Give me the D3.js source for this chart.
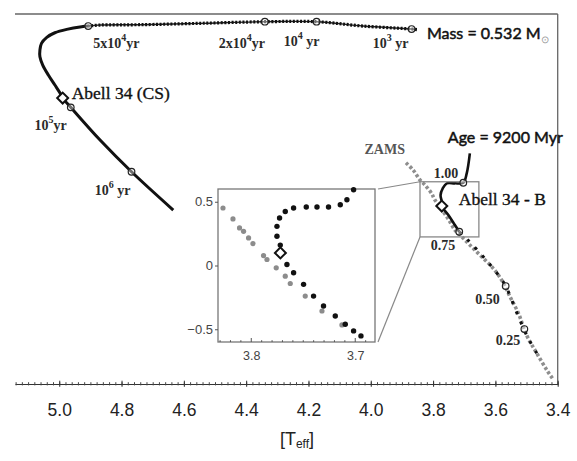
<!DOCTYPE html>
<html>
<head>
<meta charset="utf-8">
<script src="https://cdn.jsdelivr.net/npm/d3@7"></script>
<style>
  body { margin: 0; background: #fff; }
  svg { display: block; }
</style>
</head>
<body>
<svg id="chart" width="577" height="461"></svg>
<script>
// ---- data (log Teff, log L) ----
// central star: fast horizontal crossing (dotted) then cooling branch (solid)
const csEarlyTeff = [3.852, 3.869, 4.025, 4.174, 4.340, 4.548, 4.741, 4.869, 4.907];
const csEarlyLum  = [3.912, 3.923, 3.988, 4.082, 4.082, 4.047, 4.017, 4.010, 3.988];
const csLateTeff = [4.907, 4.928, 4.976, 5.014, 5.040, 5.057, 5.062, 5.062, 5.053, 5.035, 5.014, 4.998, 4.989, 4.963, 4.869, 4.768, 4.634];
const csLateLum  = [3.988, 3.973, 3.916, 3.842, 3.742, 3.612, 3.466, 3.320, 3.140, 2.923, 2.705, 2.537, 2.422, 2.219, 1.508, 0.818, -0.015];

// time markers on the central star track
const agePrefix = ["10", "10", "2x10", "5x10", "10", "10"];
const ageExp    = ["3", "4", "4", "4", "5", "6"];
const ageSuffix = [" yr", " yr", "yr", "yr", "yr", " yr"];
const ageTeff   = [3.869, 4.174, 4.340, 4.907, 4.963, 4.768];
const ageLum    = [3.923, 4.082, 4.082, 3.988, 2.219, 0.818];

// 9200 Myr isochrone
const isoTeff = [3.682, 3.692, 3.703, 3.730, 3.756, 3.769, 3.776, 3.772, 3.772, 3.751, 3.730, 3.716];
const isoLum  = [1.218, 0.783, 0.579, 0.566, 0.566, 0.457, 0.311, 0.165, 0.072, -0.124, -0.341, -0.487];
const isoLowTeff = [3.716, 3.682, 3.639, 3.608, 3.569, 3.526, 3.495, 3.467];
const isoLowLum  = [-0.487, -0.711, -1.031, -1.277, -1.647, -2.337, -2.800, -3.133];

// ZAMS
const zamsTeff = [3.887, 3.864, 3.842, 3.826, 3.805, 3.794, 3.767, 3.746, 3.730, 3.708, 3.682, 3.644, 3.607, 3.580, 3.553, 3.526, 3.500, 3.467, 3.435, 3.417];
const zamsLum  = [1.014, 0.855, 0.638, 0.529, 0.348, 0.202, -0.052, -0.270, -0.450, -0.596, -0.777, -1.031, -1.284, -1.538, -1.902, -2.263, -2.735, -3.133, -3.496, -3.677];

// stellar masses on the isochrone
const massLabels = ["1.00", "0.75", "0.50", "0.25"];
const massTeff   = [3.703, 3.716, 3.567, 3.507];
const massLum    = [0.579, -0.487, -1.669, -2.604];

// Abell 34 positions
const starNames = ["Abell 34 (CS)", "Abell 34 - B"];
const starTeff  = [4.989, 3.772];
const starLum   = [2.422, 0.072];

// zoom box
const boxTeff = [3.842, 3.653];
const boxLum  = [-0.6, 0.6];

// inset (zoomed) data
const inIsoTeff = [3.7016, 3.708, 3.7144, 3.7257, 3.7368, 3.7471, 3.7593, 3.7673, 3.7728, 3.7753, 3.7753, 3.7721, 3.7657, 3.7593, 3.7497, 3.7401, 3.7305, 3.7192, 3.7096, 3.7016, 3.6945];
const inIsoLum  = [0.594, 0.516, 0.477, 0.459, 0.459, 0.459, 0.451, 0.424, 0.373, 0.307, 0.229, 0.160, 0.008, -0.057, -0.148, -0.240, -0.318, -0.396, -0.461, -0.513, -0.552];
const inZamsTeff = [3.8272, 3.8176, 3.8113, 3.8074, 3.8026, 3.7984, 3.7882, 3.7849, 3.7760, 3.7673, 3.7625, 3.7481, 3.7320, 3.7128];
const inZamsLum  = [0.451, 0.365, 0.295, 0.268, 0.216, 0.172, 0.078, 0.047, -0.018, -0.084, -0.141, -0.240, -0.357, -0.466];
const inStar = [3.772, 0.099];

const xTicks = [5.0, 4.8, 4.6, 4.4, 4.2, 4.0, 3.8, 3.6, 3.4];

const svg = d3.select("#chart");

const x = d3.scaleLinear().domain([5.142, 3.4]).range([15, 557.7]);
const y = d3.scaleLinear().domain([-3.8, 4.25]).range([384, 14]);

const pts = (tx, ly) => tx.map((t, i) => [t, ly[i]]);
const line = d3.line().x(d => x(d[0])).y(d => y(d[1])).curve(d3.curveCatmullRom);

// frame: top and right only
svg.append("line")
  .attr("x1", x(5.142)).attr("x2", x(3.4)).attr("y1", y(4.25)).attr("y2", y(4.25))
  .attr("stroke", "#666").attr("stroke-width", 1.3);
svg.append("line")
  .attr("x1", x(3.4)).attr("x2", x(3.4)).attr("y1", y(4.25)).attr("y2", y(-3.8))
  .attr("stroke", "#666").attr("stroke-width", 1.3);

// x axis
const minor = d3.range(0, 88).map(i => +(5.14 - i * 0.02).toFixed(2)).filter(v => v >= 3.4);
svg.append("g")
  .attr("transform", `translate(0,${y(-3.8)})`)
  .call(d3.axisBottom(x).tickValues(minor).tickSize(0).tickFormat(""))
  .call(g => g.select(".domain").attr("stroke", "#333").attr("stroke-width", 1.2))
  .call(g => g.selectAll(".tick line").attr("y1", -1.8).attr("y2", 1.4).attr("stroke", "#444"));

svg.append("g")
  .attr("transform", `translate(0,${y(-3.8)})`)
  .call(d3.axisBottom(x).tickValues(xTicks).tickSize(0).tickFormat(d3.format(".1f")))
  .call(g => g.select(".domain").remove())
  .call(g => g.selectAll(".tick line").attr("y1", -3.3).attr("y2", 2.8).attr("stroke", "#333"))
  .call(g => g.selectAll(".tick text").attr("y", 32).attr("dy", 0)
    .attr("font-family", "Liberation Sans, Arial, sans-serif").attr("font-size", 17.5).attr("fill", "#222"));

const xl = svg.append("text")
  .attr("x", 297).attr("y", 445).attr("text-anchor", "middle")
  .attr("font-family", "Liberation Sans, Arial, sans-serif").attr("font-size", 18).attr("fill", "#222");
xl.append("tspan").text("[T");
xl.append("tspan").attr("font-size", 12).attr("dy", 3).text("eff");
xl.append("tspan").attr("dy", -3).text("]");

// ZAMS
svg.append("path").datum(pts(zamsTeff, zamsLum))
  .attr("d", line).attr("fill", "none")
  .attr("stroke", "#8e8e8e").attr("stroke-width", 3.6).attr("stroke-dasharray", "3,2.2");

// isochrone
svg.append("path").datum(pts(isoLowTeff, isoLowLum))
  .attr("d", line).attr("fill", "none")
  .attr("stroke", "#111").attr("stroke-width", 3).attr("stroke-dasharray", "3,8");
svg.append("path").datum(pts(isoTeff, isoLum))
  .attr("d", line).attr("fill", "none")
  .attr("stroke", "#111").attr("stroke-width", 2.6);

// central star track
svg.append("path").datum(pts(csEarlyTeff, csEarlyLum))
  .attr("d", line).attr("fill", "none")
  .attr("stroke", "#222").attr("stroke-width", 1.4);
svg.append("path").datum(pts(csEarlyTeff, csEarlyLum))
  .attr("d", line).attr("fill", "none")
  .attr("stroke", "#111").attr("stroke-width", 3.2).attr("stroke-dasharray", "2,1.6");
svg.append("path").datum(pts(csLateTeff, csLateLum))
  .attr("d", line).attr("fill", "none")
  .attr("stroke", "#111").attr("stroke-width", 3);

// zoom box
svg.append("rect")
  .attr("x", x(boxTeff[0])).attr("y", y(boxLum[1]))
  .attr("width", x(boxTeff[1]) - x(boxTeff[0])).attr("height", y(boxLum[0]) - y(boxLum[1]))
  .attr("fill", "none").attr("stroke", "#888").attr("stroke-width", 1.3);

// markers
const circ = (tx, ly) => svg.append("g").selectAll("circle")
  .data(pts(tx, ly)).join("circle")
  .attr("cx", d => x(d[0])).attr("cy", d => y(d[1])).attr("r", 3.3)
  .attr("fill", "#fff").attr("fill-opacity", 0.4).attr("stroke", "#222").attr("stroke-width", 1.2);
circ(ageTeff, ageLum);
circ(massTeff, massLum);

const diamond = d3.symbol().type(d3.symbolSquare).size(60);
svg.append("g").selectAll("path")
  .data(pts(starTeff, starLum)).join("path")
  .attr("d", diamond)
  .attr("transform", d => `translate(${x(d[0])},${y(d[1])}) rotate(45)`)
  .attr("fill", "#fff").attr("stroke", "#111").attr("stroke-width", 2);

// age labels
const ageOff = [[-3, 19, "end"], [3, 24, "end"], [0, 26, "end"], [5, 22, "start"], [-4, 23, "end"], [-1, 23, "end"]];
ageTeff.forEach((t, i) => {
  const tx = svg.append("text")
    .attr("x", x(t) + ageOff[i][0]).attr("y", y(ageLum[i]) + ageOff[i][1])
    .attr("text-anchor", ageOff[i][2])
    .attr("font-family", "Liberation Serif, Times New Roman, serif").attr("font-weight", "bold")
    .attr("font-size", 14).attr("fill", "#2a2a2a");
  tx.append("tspan").text(agePrefix[i]);
  tx.append("tspan").attr("font-size", 10).attr("dy", -7).text(ageExp[i]);
  tx.append("tspan").attr("dy", 7).text(ageSuffix[i]);
});

// mass labels
const massOff = [[-5, -5], [-4, 18], [-6, 18], [-4, 16]];
svg.append("g").selectAll("text")
  .data(massLabels).join("text")
  .attr("x", (d, i) => x(massTeff[i]) + massOff[i][0])
  .attr("y", (d, i) => y(massLum[i]) + massOff[i][1])
  .attr("text-anchor", "end")
  .attr("font-family", "Liberation Serif, Times New Roman, serif").attr("font-weight", "bold")
  .attr("font-size", 14).attr("fill", "#2a2a2a")
  .text(d => d);

// star names
const nameOff = [[9, 1], [17, -1]];
svg.append("g").selectAll("text")
  .data(starNames).join("text")
  .attr("x", (d, i) => x(starTeff[i]) + nameOff[i][0])
  .attr("y", (d, i) => y(starLum[i]) + nameOff[i][1])
  .attr("font-family", "Liberation Serif, Times New Roman, serif")
  .attr("font-size", 17.5).attr("fill", "#111")
  .attr("stroke", "#111").attr("stroke-width", 0.35)
  .text(d => d);

// ZAMS label
svg.append("text")
  .attr("x", x(zamsTeff[0]) - 1).attr("y", y(zamsLum[0]) - 9).attr("text-anchor", "end")
  .attr("font-family", "Liberation Serif, Times New Roman, serif").attr("font-weight", "bold")
  .attr("font-size", 14).attr("fill", "#555").text("ZAMS");

// Mass / Age labels
const mt = svg.append("text")
  .attr("x", x(csEarlyTeff[0]) + 10).attr("y", y(csEarlyLum[0]) + 9)
  .attr("font-family", "Lato, Calibri, sans-serif")
  .attr("font-size", 16).attr("fill", "#111")
  .attr("stroke", "#111").attr("stroke-width", 0.5);
mt.append("tspan").text("Mass = 0.532 M");
mt.append("tspan").attr("font-size", 10).attr("dy", 4).attr("fill", "#999").attr("stroke", "none").text("\u2299");

svg.append("text")
  .attr("x", x(isoTeff[0]) - 22).attr("y", y(isoLum[0]) - 10)
  .attr("font-family", "Lato, Calibri, sans-serif")
  .attr("font-size", 16).attr("fill", "#111")
  .attr("stroke", "#111").attr("stroke-width", 0.5)
  .text("Age = 9200 Myr");

// ---- inset ----
const xi = d3.scaleLinear().domain([3.832, 3.681]).range([218, 375]);
const yi = d3.scaleLinear().domain([-0.6, 0.6]).range([342, 189]);

// connectors
svg.append("line").attr("x1", xi(3.681) + 3).attr("y1", yi(0.6))
  .attr("x2", x(boxTeff[0])).attr("y2", y(boxLum[1]))
  .attr("stroke", "#888").attr("stroke-width", 1.2);
svg.append("line").attr("x1", xi(3.681) + 3).attr("y1", yi(-0.6))
  .attr("x2", x(boxTeff[0])).attr("y2", y(boxLum[0]))
  .attr("stroke", "#888").attr("stroke-width", 1.2);

const inset = svg.append("g");
inset.append("rect")
  .attr("x", xi(3.832)).attr("y", yi(0.6))
  .attr("width", xi(3.681) - xi(3.832)).attr("height", yi(-0.6) - yi(0.6))
  .attr("fill", "#fff").attr("stroke", "#777").attr("stroke-width", 1.3);

const inMinor = d3.range(0, 16).map(i => +(3.83 - i * 0.01).toFixed(2)).filter(v => v > 3.681);
inset.append("g").selectAll("line").data(inMinor).join("line")
  .attr("x1", d => xi(d)).attr("x2", d => xi(d))
  .attr("y1", yi(-0.6)).attr("y2", d => yi(-0.6) - (Math.abs(d * 10 - Math.round(d * 10)) < 1e-6 ? 4 : 1.8))
  .attr("stroke", "#555").attr("stroke-width", 1);

inset.append("g")
  .attr("transform", `translate(0,${yi(-0.6)})`)
  .call(d3.axisBottom(xi).tickValues([3.8, 3.7]).tickSize(0).tickPadding(9).tickFormat(d3.format(".1f")))
  .call(g => g.select(".domain").remove())
  .call(g => g.selectAll(".tick text")
    .attr("font-family", "Liberation Sans Narrow, Arial Narrow, Liberation Sans, sans-serif")
    .attr("font-size", 12.5).attr("fill", "#444"));

inset.append("g")
  .attr("transform", `translate(${xi(3.832)},0)`)
  .call(d3.axisLeft(yi).tickValues([0.5, 0, -0.5]).tickSize(3).tickPadding(2).tickFormat(d => d === 0 ? "0" : d3.format(".1f")(d)))
  .call(g => g.select(".domain").remove())
  .call(g => g.selectAll(".tick line").attr("stroke", "#555"))
  .call(g => g.selectAll(".tick text")
    .attr("font-family", "Liberation Sans Narrow, Arial Narrow, Liberation Sans, sans-serif")
    .attr("font-size", 13).attr("fill", "#444"));

inset.append("g").selectAll("circle")
  .data(pts(inZamsTeff, inZamsLum)).join("circle")
  .attr("cx", d => xi(d[0])).attr("cy", d => yi(d[1])).attr("r", 2.6).attr("fill", "#8c8c8c");
inset.append("g").selectAll("circle")
  .data(pts(inIsoTeff, inIsoLum)).join("circle")
  .attr("cx", d => xi(d[0])).attr("cy", d => yi(d[1])).attr("r", 2.7).attr("fill", "#111");

inset.append("path")
  .attr("d", diamond)
  .attr("transform", `translate(${xi(inStar[0])},${yi(inStar[1])}) rotate(45)`)
  .attr("fill", "#fff").attr("stroke", "#111").attr("stroke-width", 2);
</script>
</body>
</html>
